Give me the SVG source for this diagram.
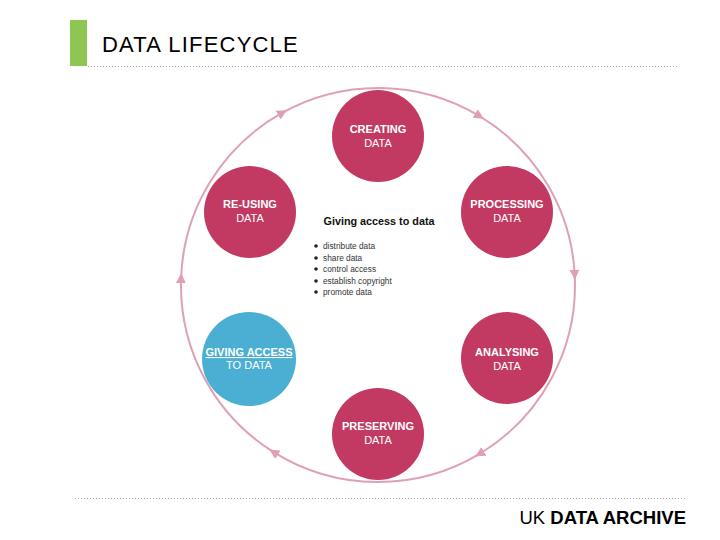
<svg xmlns="http://www.w3.org/2000/svg" width="720" height="540" viewBox="0 0 720 540">
<style>
.title{font-family:"Liberation Sans",Arial,sans-serif;font-size:22px;letter-spacing:1.2px;fill:#000}
.ring{fill:none;stroke:#dfa0b6;stroke-width:2}
.node{fill:#c23a62}
.blue{fill:#4aafd2}
.nt{font-family:"Liberation Sans",Arial,sans-serif;font-size:11px;font-weight:bold;fill:#fff;text-anchor:middle}
.nt2{font-family:"Liberation Sans",Arial,sans-serif;font-size:11px;fill:#fff;text-anchor:middle}
.lbl{font-family:"Liberation Sans",Arial,sans-serif;font-size:10.8px;font-weight:bold;fill:#111;text-anchor:middle}
.bt{font-family:"Liberation Sans",Arial,sans-serif;font-size:8.3px;fill:#333}
.dot{stroke:#aaa;stroke-width:1;stroke-dasharray:1 2}
</style>
<defs>
<marker id="ah" viewBox="0 0 10 10" refX="5" refY="5" markerWidth="10" markerHeight="10" markerUnits="userSpaceOnUse" orient="auto">
<path d="M0,0 L10,5 L0,10 Z" fill="#dfa0b6"/>
</marker>
</defs>
<rect width="720" height="540" fill="#fff"/>
<g id="header">
<rect x="70" y="20" width="17" height="46" fill="#8dc653"/>
<text class="title" x="102" y="52">DATA LIFECYCLE</text>
<line class="dot" x1="88" y1="66.5" x2="677" y2="66.5"/>
<line class="dot" x1="75" y1="498.5" x2="687" y2="498.5"/>
<text x="686" y="524" text-anchor="end" font-family="Liberation Sans,Arial,sans-serif" font-size="18.5" fill="#000">UK <tspan font-weight="bold">DATA ARCHIVE</tspan></text>
</g>
<g id="connectors">
<path class="ring" marker-end="url(#ah)" d="M181.1,278.1 A197,197 0 0 1 282.5,112.7"/>
<path class="ring" marker-end="url(#ah)" d="M282.5,112.7 A197,197 0 0 1 479.5,116.1"/>
<path class="ring" marker-end="url(#ah)" d="M479.5,116.1 A197,197 0 0 1 574.7,274.7"/>
<path class="ring" marker-end="url(#ah)" d="M574.7,274.7 A197,197 0 0 1 479.5,453.9"/>
<path class="ring" marker-end="url(#ah)" d="M479.5,453.9 A197,197 0 0 1 273.6,452.1"/>
<path class="ring" marker-end="url(#ah)" d="M273.6,452.1 A197,197 0 0 1 181.1,278.1"/>
</g>
<g id="creating">
<circle class="node" cx="378" cy="136" r="46"/>
<text class="nt" x="378" y="133">CREATING</text>
<text class="nt2" x="378" y="147">DATA</text>
</g>
<g id="processing">
<circle class="node" cx="507" cy="212" r="46"/>
<text class="nt" x="507" y="208">PROCESSING</text>
<text class="nt2" x="507" y="222">DATA</text>
</g>
<g id="analysing">
<circle class="node" cx="507" cy="358" r="46"/>
<text class="nt" x="507" y="356">ANALYSING</text>
<text class="nt2" x="507" y="370">DATA</text>
</g>
<g id="preserving">
<circle class="node" cx="378" cy="434" r="46"/>
<text class="nt" x="378" y="430">PRESERVING</text>
<text class="nt2" x="378" y="444">DATA</text>
</g>
<g id="giving-access">
<circle class="blue" cx="249" cy="359" r="47"/>
<text class="nt" x="249" y="356" text-decoration="underline">GIVING ACCESS</text>
<text class="nt2" x="249" y="369">TO DATA</text>
</g>
<g id="re-using">
<circle class="node" cx="250" cy="212" r="46"/>
<text class="nt" x="250" y="208">RE-USING</text>
<text class="nt2" x="250" y="222">DATA</text>
</g>
<g id="info">
<text class="lbl" x="379" y="225">Giving access to data</text>
<g fill="#222">
<circle cx="316" cy="246" r="1.8"/>
<circle cx="316" cy="258" r="1.8"/>
<circle cx="316" cy="269" r="1.8"/>
<circle cx="316" cy="281" r="1.8"/>
<circle cx="316" cy="292" r="1.8"/>
</g>
<text class="bt" x="323" y="249">distribute data</text>
<text class="bt" x="323" y="261">share data</text>
<text class="bt" x="323" y="272">control access</text>
<text class="bt" x="323" y="284">establish copyright</text>
<text class="bt" x="323" y="295">promote data</text>
</g>
</svg>
